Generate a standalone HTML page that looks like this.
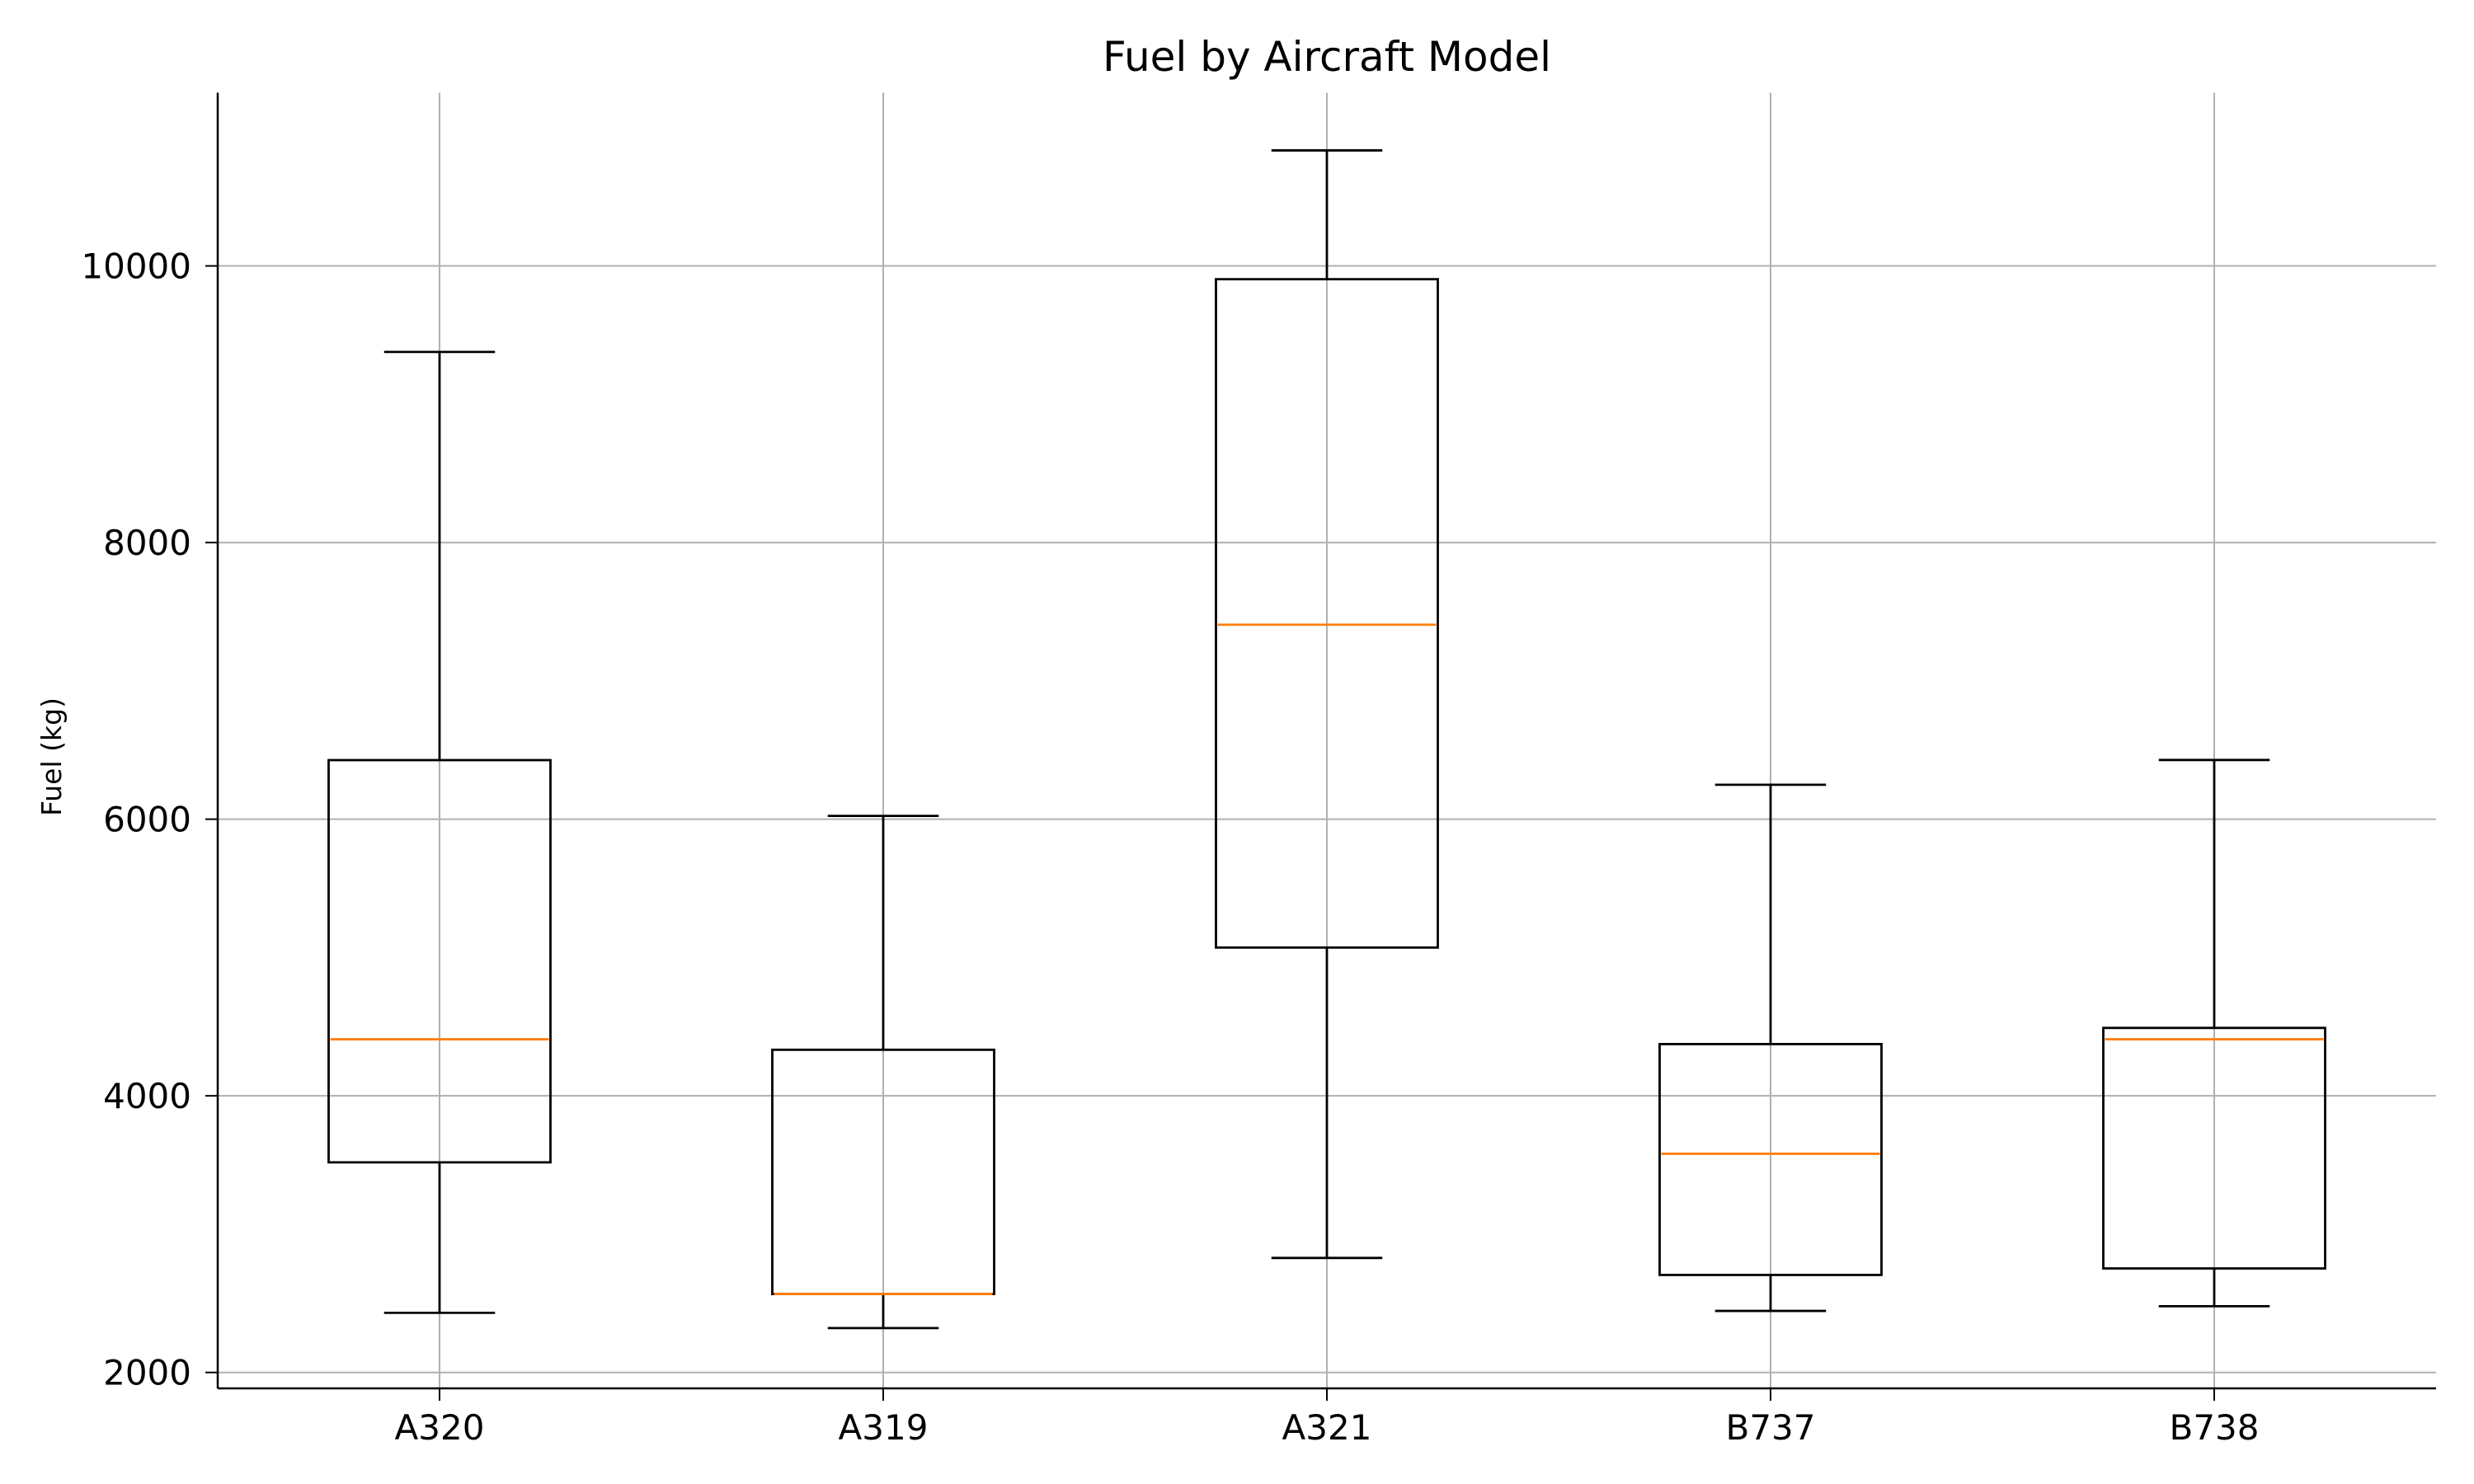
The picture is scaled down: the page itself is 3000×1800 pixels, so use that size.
<!DOCTYPE html>
<html><head><meta charset="utf-8"><style>
html,body{margin:0;padding:0;background:#fff;}
svg{display:block;font-family:"DejaVu Sans","Liberation Sans",sans-serif;}
</style></head><body>
<svg id="chart" width="3000" height="1800" viewBox="0 0 3000 1800" xmlns="http://www.w3.org/2000/svg">
<rect width="3000" height="1800" fill="#fff"/>
<text x="1609" y="86" font-size="50" text-anchor="middle">Fuel by Aircraft Model</text>
<text transform="translate(74,918) rotate(-90)" font-size="33" text-anchor="middle">Fuel (kg)</text>
<g id="grid"></g>
<g id="boxes"></g>
<g id="axes"></g>
</svg>
<script>
const categories = ["A320","A319","A321","B737","B738"];
const whiskerLow = [2431, 2321, 2828, 2445, 2479];
const q1Values = [3519, 2567, 5072, 2705, 2752];
const medianValues = [4409, 2567, 7406, 3581, 4409];
const q3Values = [6427, 4333, 9904, 4374, 4491];
const whiskerHigh = [9378, 6024, 10835, 6249, 6428];
const yTicks = [2000, 4000, 6000, 8000, 10000];

const NS = "http://www.w3.org/2000/svg";
const L = 264, R = 2954, T = 112.5, B = 1684;
const yMin = 1885, yMax = 11252;
function y(v){ return B - (v - yMin) / (yMax - yMin) * (B - T); }
const step = (R - L) / categories.length;
function x(i){ return L + step * (i + 0.5); }
function mk(tag, attrs, parent){
  const e = document.createElementNS(NS, tag);
  for (const k in attrs) e.setAttribute(k, attrs[k]);
  parent.appendChild(e);
  return e;
}
const grid = document.getElementById("grid");
const boxes = document.getElementById("boxes");
const axes = document.getElementById("axes");

yTicks.forEach(t => {
  const g = mk("line", {x1:L, x2:R, y1:y(t), y2:y(t), stroke:"#b0b0b0", "stroke-width":2}, grid);
  
  
  const tk = mk("line", {x1:L-15, x2:L, y1:y(t), y2:y(t), stroke:"#000", "stroke-width":2}, axes);
  
  
  const lb = mk("text", {x:L-32, y:y(t)+15, "font-size":42, "text-anchor":"end"}, axes);
  lb.textContent = t;
  
  
});
categories.forEach((c, i) => {
  const cx = x(i);
  const g = mk("line", {x1:cx, x2:cx, y1:T, y2:B, stroke:"#b0b0b0", "stroke-width":2}, grid);
  
  
  const tk = mk("line", {x1:cx, x2:cx, y1:B, y2:B+15, stroke:"#000", "stroke-width":2}, axes);
  
  
  const lb = mk("text", {x:cx, y:B+62, "font-size":42, "text-anchor":"middle"}, axes);
  lb.textContent = c;
  
  

  const grp = mk("g", {}, boxes);
  
  
  const bw = step * 0.5, cw = step * 0.25;
  const st = {stroke:"#000", "stroke-width":2.8, fill:"none"};
  mk("line", Object.assign({x1:cx, x2:cx, y1:y(whiskerLow[i]), y2:y(q1Values[i])}, st), grp);
  mk("line", Object.assign({x1:cx, x2:cx, y1:y(q3Values[i]), y2:y(whiskerHigh[i])}, st), grp);
  mk("line", Object.assign({x1:cx-cw/2, x2:cx+cw/2, y1:y(whiskerLow[i]), y2:y(whiskerLow[i])}, st), grp);
  mk("line", Object.assign({x1:cx-cw/2, x2:cx+cw/2, y1:y(whiskerHigh[i]), y2:y(whiskerHigh[i])}, st), grp);
  mk("rect", Object.assign({x:cx-bw/2, y:y(q3Values[i]), width:bw, height:y(q1Values[i])-y(q3Values[i])}, st), grp);
  mk("line", {x1:cx-bw/2+2, x2:cx+bw/2-2, y1:y(medianValues[i]), y2:y(medianValues[i]), stroke:"#ff7f0e", "stroke-width":2.8}, grp);
});
const ax1 = mk("line", {x1:L, x2:L, y1:T, y2:B, stroke:"#000", "stroke-width":2.5}, axes);


const ax2 = mk("line", {x1:L, x2:R, y1:B, y2:B, stroke:"#000", "stroke-width":2.5}, axes);


</script>
</body></html>
